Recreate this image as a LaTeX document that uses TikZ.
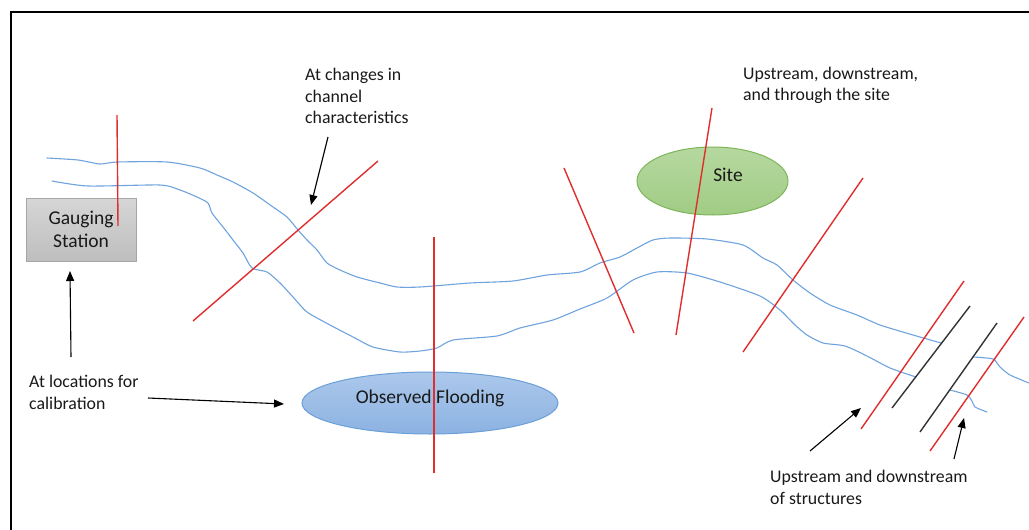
\documentclass[tikz,border=0pt]{standalone}
\usepackage{fontspec}
\setmainfont{Carlito}
\usetikzlibrary{shapes.geometric,arrows.meta}
\definecolor{rline}{RGB}{224,45,45}
\definecolor{river}{RGB}{110,163,222}
\definecolor{txt}{RGB}{25,25,25}
\tikzset{
  lbl/.style={font=\fontsize{17.8}{21.5}\selectfont, text=txt, align=left, inner sep=0pt, anchor=west},
  shapetxt/.style={font=\fontsize{19.5}{23}\selectfont, text=txt, inner sep=0pt},
  arr/.style={draw=black, line width=1.1pt, -{Triangle[length=10pt,width=8pt]}},
  cut/.style={draw=rline, line width=1.4pt},
  struct/.style={draw=black!80, line width=1.4pt},
  bank/.style={draw=river, line width=1.1pt, line join=round, line cap=round},
}
\begin{document}
\begin{tikzpicture}[x=1pt,y=-1pt]
\useasboundingbox (0,0) rectangle (1029,530);
% frame
\draw[line width=2pt] (10.5,530) -- (10.5,12) -- (1029,12);

% shapes
\node[draw={rgb,255:red,166;green,166;blue,166}, top color={rgb,255:red,214;green,214;blue,214}, bottom color={rgb,255:red,190;green,190;blue,190},
  minimum width=110pt, minimum height=63pt, shapetxt, align=center]
  (gauge) at (81,229.5) {Gauging\\Station};
\node[ellipse, draw={rgb,255:red,125;green,182;blue,90}, line width=1pt,
  top color={rgb,255:red,182;green,216;blue,160}, bottom color={rgb,255:red,160;green,204;blue,132},
  minimum width=151pt, minimum height=68pt, inner sep=0pt] (site) at (712.5,181) {};
\node[shapetxt] (sitetxt) at (728,175) {Site};
\node[ellipse, draw={rgb,255:red,106;green,159;blue,216}, line width=1pt,
  top color={rgb,255:red,172;green,200;blue,235}, bottom color={rgb,255:red,140;green,178;blue,226},
  minimum width=256pt, minimum height=62pt, inner sep=0pt] (flood) at (430,403) {};
\node[shapetxt] (floodtxt) at (430,398) {Observed Flooding};

% river banks
\draw[bank] plot[smooth, tension=0.4] coordinates {
 (47,158) (78,160) (100,164) (117,162) (167,162) (200,168) (217,175) (233,182) (253,193) (273,207) (287,217)
 (298,230) (307,240) (317,250) (327,263) (340,270) (357,277) (380,283) (397,287) (420,287) (470,283)
 (513,281) (547,275) (580,272) (600,263) (620,257) (637,248) (653,240) (670,238) (707,239) (743,245)
 (763,258) (777,265) (793,280) (810,293) (830,305) (857,315) (880,325) (913,335) (941,343)};
\draw[bank] plot[smooth, tension=0.4] coordinates {
 (973,357) (993,359) (1000,367) (1010,375) (1029,383)};
\draw[bank] plot[smooth, tension=0.4] coordinates {
 (52,181) (88,186) (160,185) (180,190) (197,197) (208,203) (212,213) (223,227) (233,240) (243,253)
 (252,268) (267,272) (280,283) (293,297) (307,312) (330,325) (353,337) (373,347) (400,352) (420,351)
 (437,348) (453,340) (497,336) (520,328) (553,320) (580,309) (607,298) (633,280) (657,272) (687,273)
 (720,282) (760,296) (780,310) (795,325) (807,335) (823,343) (845,346) (867,356) (890,368) (916,377)};
\draw[bank] plot[smooth, tension=0.4] coordinates {
 (950,390) (967,395) (972,401) (975,407) (987,412)};

% cross sections
\draw[cut] (117,115) -- (118,226);
\draw[cut] (378,161) -- (193,321);
\draw[cut] (434,237) -- (434,473);
\draw[cut] (564,168) -- (634,333);
\draw[cut] (712,108) -- (676,335);
\draw[cut] (863,178) -- (743,352);
\draw[cut] (964,281) -- (861,429);
\draw[cut] (1024,317) -- (930,451);
% structures
\draw[struct] (970,306) -- (892,408);
\draw[struct] (997,323) -- (920,432);

% labels
\node[lbl] (txtchan) at (305,96) {At changes in\\channel\\characteristics};
\node[lbl] (txtsite) at (743,85.5) {Upstream, downstream,\\and through the site};
\node[lbl] (txtcal) at (29,392.5) {At locations for\\calibration};
\node[lbl] (txtstruct) at (770,487.5) {Upstream and downstream\\of structures};

% arrows
\coordinate (a1s) at (71,357); \coordinate (a1e) at (70,271);
\coordinate (a2s) at (148,398); \coordinate (a2e) at (284,404);
\coordinate (a3s) at (328,137); \coordinate (a3e) at (311,205);
\coordinate (a4s) at (810,451); \coordinate (a4e) at (861,408);
\coordinate (a5s) at (954,459); \coordinate (a5e) at (964,418);
\draw[arr] (a1s) -- (a1e);
\draw[arr] (a2s) -- (a2e);
\draw[arr] (a3s) -- (a3e);
\draw[arr] (a4s) -- (a4e);
\draw[arr] (a5s) -- (a5e);
\end{tikzpicture}
\end{document}
